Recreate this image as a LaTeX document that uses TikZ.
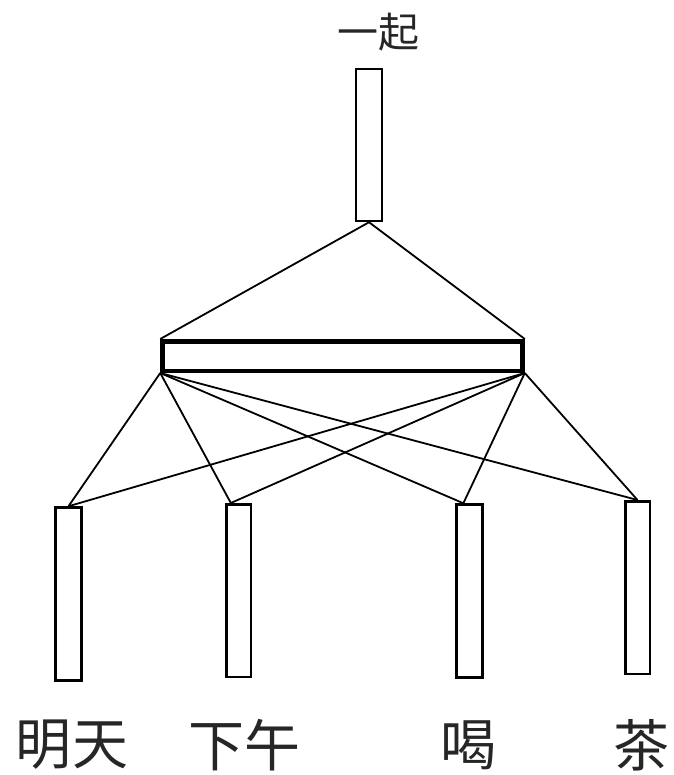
\documentclass[tikz,border=0pt]{standalone}
\usepackage{fontspec}
\usetikzlibrary{backgrounds}
\newfontfamily\cjk{Noto Sans CJK SC}
\begin{document}
\begin{tikzpicture}[x=1pt,y=-1pt,
  box/.style={draw=black,line width=2.5pt,fill=white,inner sep=0pt,minimum width=26pt,minimum height=173pt},
  barbox/.style={draw=black,line width=4.5pt,fill=white,inner sep=0pt,minimum width=360pt,minimum height=29.5pt},
  link/.style={draw=black,line width=1.8pt},
  toplabel/.style={inner sep=0pt,text=black!85,font=\cjk\fontsize{41}{44}\selectfont},
  botlabel/.style={inner sep=0pt,text=black!85,font=\cjk\fontsize{56}{60}\selectfont}]
\useasboundingbox (0,0) rectangle (673,775);
\node[box,minimum height=152pt] (t) at (369,145) {};
\node[barbox] (bar) at (342.5,356) {};
\node[box] (b1) at (68.5,594) {};
\node[box,minimum width=24.5pt,minimum height=172.5pt] (b2) at (238.5,590.5) {};
\node[box] (b3) at (469.5,591) {};
\node[box,minimum width=24.5pt,minimum height=172.5pt] (b4) at (637.5,587.5) {};
\begin{scope}[on background layer]
\draw[link] (t.south) -- (bar.north west);
\draw[link] (t.south) -- (bar.north east);
\draw[link] (bar.south west) -- (b1.north);
\draw[link] (bar.south west) -- (b2.95);
\draw[link] (bar.south west) -- (b3.94);
\draw[link] (bar.south west) -- (b4.north);
\draw[link] (bar.south east) -- (b1.north);
\draw[link] (bar.south east) -- (b2.95);
\draw[link] (bar.south east) -- (b3.94);
\draw[link] (bar.south east) -- (b4.north);
\end{scope}
\node[toplabel] (l0) at (378,32) {一起};
\node[botlabel] (l1) at (72,745) {明天};
\node[botlabel] (l2) at (244,745) {下午};
\node[botlabel] (l3) at (468,745) {喝};
\node[botlabel] (l4) at (641,745) {茶};
\end{tikzpicture}
\end{document}
